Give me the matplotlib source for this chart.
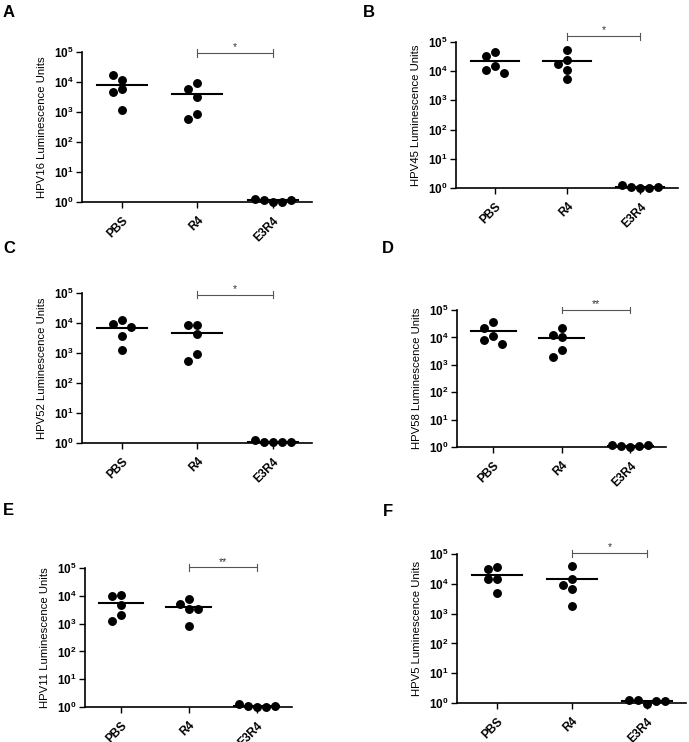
import numpy as np
import matplotlib.pyplot as plt
from matplotlib.ticker import NullLocator

plt.rcParams['font.family'] = ['Liberation Sans', 'DejaVu Sans']
plt.rcParams['mathtext.fontset'] = 'custom'
plt.rcParams['mathtext.rm'] = 'Liberation Sans'
plt.rcParams['mathtext.bf'] = 'Liberation Sans:bold'

# data (luminescence units)
groups = ['PBS', 'R4', 'E3R4']
hpv16 = [[11800, 17400, 5900, 4700, 1170], [9200, 6060, 3100, 840, 570], [0.97, 1.17, 1.03, 1.29, 1.2]]
hpv45 = [[45500, 34000, 15400, 10700, 8700], [51700, 23500, 17400, 11200, 5500], [1.0, 1.1, 1.0, 1.3, 1.08]]
hpv52 = [[12300, 9500, 7400, 3800, 1290], [8800, 8300, 4200, 930, 560], [1.05, 1.1, 1.05, 1.23, 1.08]]
hpv58 = [[35500, 21600, 11300, 8100, 5600], [21600, 12000, 10400, 3500, 2000], [1.0, 1.1, 1.1, 1.2, 1.15]]
hpv11 = [[11000, 9600, 4800, 2000, 1200], [7900, 4900, 3450, 3450, 820], [1.0, 1.12, 1.0, 1.25, 1.12]]
hpv5 = [[35800, 30600, 14600, 14600, 4800], [39600, 14800, 9100, 6600, 1800], [0.95, 1.26, 1.17, 1.26, 1.15]]

panel_data = [hpv16, hpv45, hpv52, hpv58, hpv11, hpv5]
panel_names = ['HPV16', 'HPV45', 'HPV52', 'HPV58', 'HPV11', 'HPV5']
panel_letters = ['A', 'B', 'C', 'D', 'E', 'F']
panel_stars = ['*', '*', '*', '**', '**', '*']
bracket_log = [4.97, 5.2, 4.95, 5.0, 5.02, 5.03]

# layout (pixels of the 689x742 figure)
W, H = 689., 742.
axes_px = [(82, 312, 52, 202), (456, 678, 42, 188),
           (82, 312, 293, 443), (457, 666, 310, 447),
           (85, 292, 568, 707), (457, 686, 554, 703)]
letter_px = [(3, 5), (363, 5), (3, 241), (382, 241), (3, 503), (383, 504)]


def swarm_offsets(ax, vals, diam=9.0):
  # simple beeswarm: place points from the middle outwards without overlap
  x0, x1 = ax.get_xlim()
  bbox = ax.get_window_extent()
  per_px = (x1 - x0) / bbox.width
  placed = []
  offs = []
  cands = [0] + [s * i for i in range(1, 6) for s in (-1, 1)]
  for v in vals:
    py = ax.transData.transform((0, v))[1]
    for c in cands:
      px = c * diam
      if all((px - qx)**2 + (py - qy)**2 >= (0.95 * diam)**2 for qx, qy in placed):
        break
    placed.append((px, py))
    offs.append(px * per_px)
  return np.array(offs)


fig = plt.figure(figsize=(W / 100, H / 100), dpi=100)

for k in range(6):
  l, r, t, b = axes_px[k]
  ax = fig.add_axes([l / W, (H - b) / H, (r - l) / W, (b - t) / H])
  ax.set_yscale('log')
  ax.set_ylim(1, 1e5)
  ax.set_xlim(-0.53, 2.52)

  for i, vals in enumerate(panel_data[k]):
    vals = np.array(vals, dtype=float)
    xo = swarm_offsets(ax, vals)
    ax.plot(i + xo, vals, 'o', color='black', ms=5.4, clip_on=False, zorder=3)
    m = vals.mean()
    ax.plot([i - 0.33, i + 0.33], [m, m], color='black', lw=1.5, clip_on=False, zorder=2)

  # significance bracket R4 vs E3R4
  yb = bracket_log[k]
  ax.plot([1, 2], [10**yb, 10**yb], color='#555555', lw=0.8, clip_on=False)
  for xe in (1, 2):
    ax.plot([xe, xe], [10**(yb - 0.12), 10**(yb + 0.12)], color='#555555', lw=0.8, clip_on=False)
  ax.text(1.5, 10**(yb + 0.03), panel_stars[k], ha='center', va='bottom', fontsize=7.5, color='#333333')

  ax.set_yticks([10**e for e in range(6)])
  ax.set_yticklabels([r'$\mathbf{10^{%d}}$' % e for e in range(6)], fontsize=8.5)
  ax.yaxis.set_minor_locator(NullLocator())
  ax.set_xticks([0, 1, 2])
  ax.set_xticklabels(groups, rotation=45, ha='right', rotation_mode='anchor',
                     fontweight='bold', fontsize=8.5)
  ax.tick_params(direction='out', length=4, width=1, pad=2)
  ax.tick_params(axis='x', pad=5)
  for s in ('top', 'right'):
    ax.spines[s].set_visible(False)
  for s in ('left', 'bottom'):
    ax.spines[s].set_linewidth(1.2)
  ax.set_ylabel(panel_names[k] + ' Luminescence Units', fontsize=8.2, labelpad=5)

  lx, ly = letter_px[k]
  fig.text(lx / W, 1 - ly / H, panel_letters[k], ha='left', va='top',
           fontsize=12, fontweight='bold')

fig.savefig('out.png', dpi=100)
